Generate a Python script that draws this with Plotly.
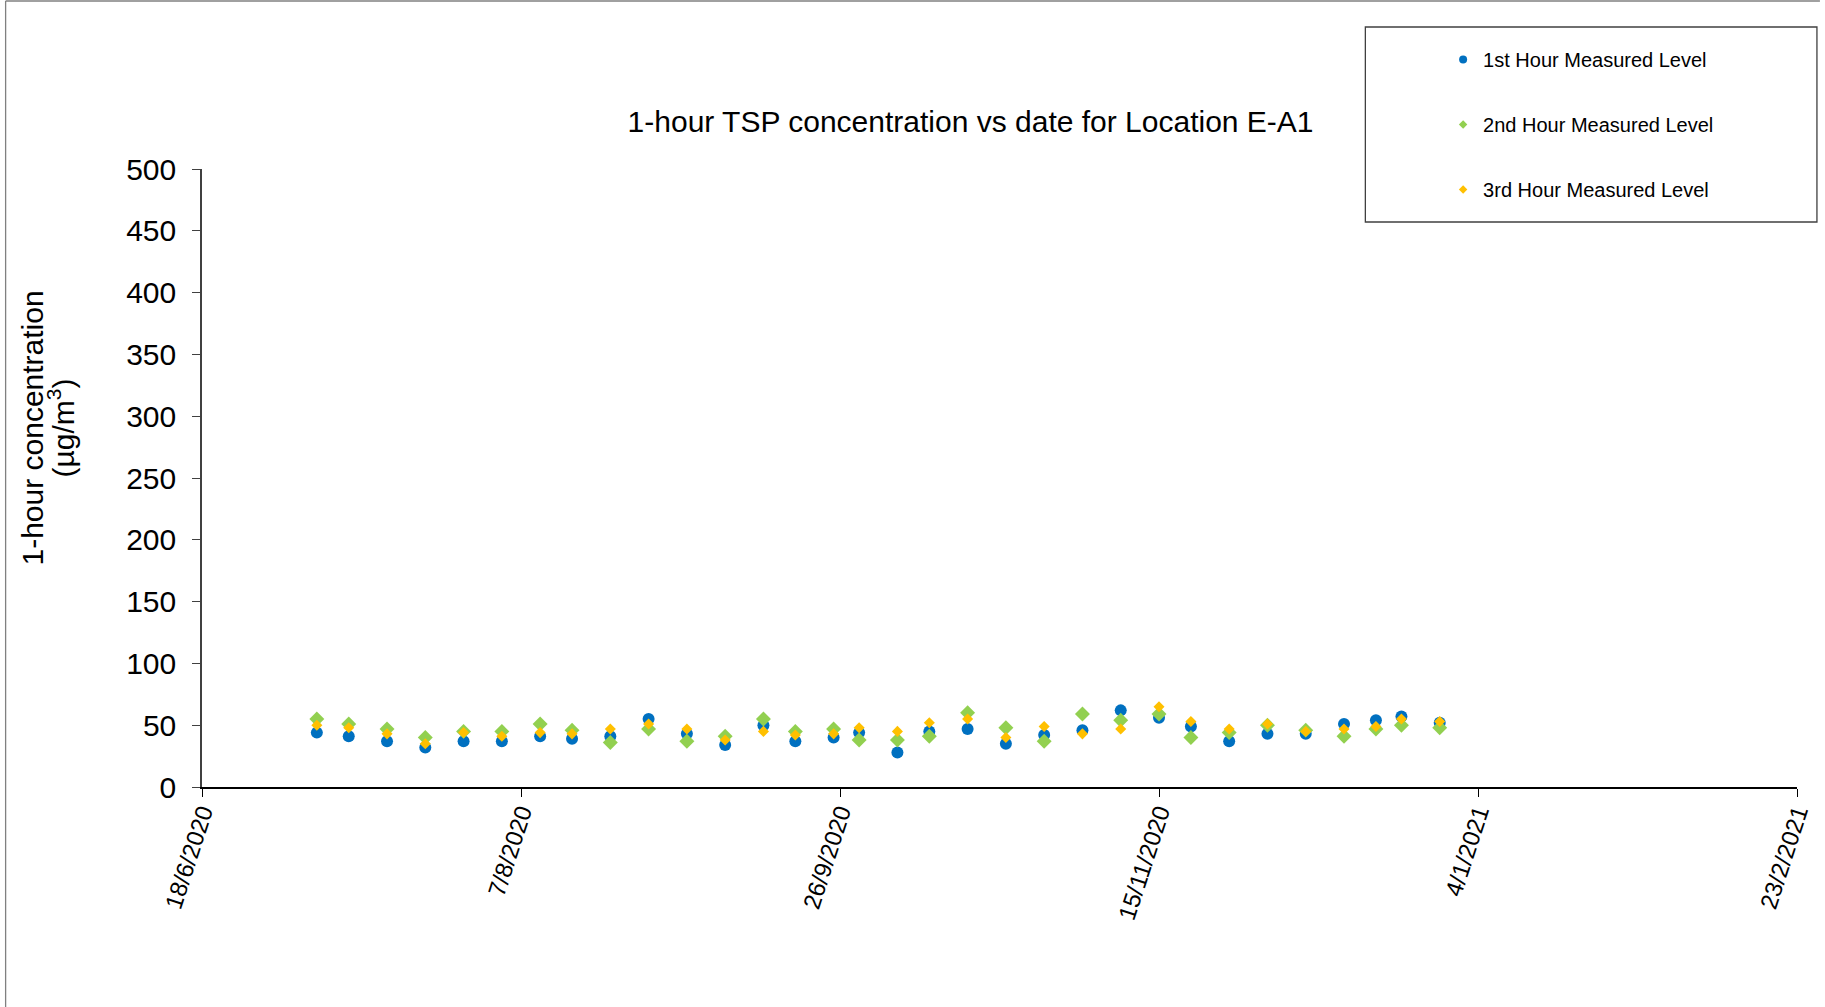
import plotly.graph_objects as go

# ---- data ----
dates = [
    "2020-07-06", "2020-07-11", "2020-07-17", "2020-07-23", "2020-07-29", "2020-08-04",
    "2020-08-10", "2020-08-15", "2020-08-21", "2020-08-27", "2020-09-02", "2020-09-08",
    "2020-09-14", "2020-09-19", "2020-09-25", "2020-09-29", "2020-10-05", "2020-10-10",
    "2020-10-16", "2020-10-22", "2020-10-28", "2020-11-03", "2020-11-09", "2020-11-15",
    "2020-11-20", "2020-11-26", "2020-12-02", "2020-12-08", "2020-12-14", "2020-12-19",
    "2020-12-23", "2020-12-29",
]
first_hour = [44, 41, 37, 32, 37, 37, 41, 39, 41, 55, 43, 34, 50, 37, 40, 44,
              28, 45, 47, 35, 42, 46, 62, 56, 49, 37, 43, 43, 51, 54, 57, 52]
second_hour = [55, 51, 47, 40, 45, 45, 51, 46, 36, 47, 37, 41, 55, 45, 47, 38,
               38, 41, 60, 48, 37, 59, 54, 59, 40, 44, 50, 46, 41, 47, 50, 48]
third_hour = [50, 48, 43, 35, 44, 41, 44, 43, 47, 51, 47, 38, 45, 42, 43, 48,
              45, 52, 55, 40, 49, 43, 47, 65, 53, 47, 51, 45, 47, 49, 55, 53]

tick_dates = ["2020-06-18", "2020-08-07", "2020-09-26", "2020-11-15", "2021-01-04", "2021-02-23"]
tick_labels = ["18/6/2020", "7/8/2020", "26/9/2020", "15/11/2020", "4/1/2021", "23/2/2021"]
y_ticks = [0, 50, 100, 150, 200, 250, 300, 350, 400, 450, 500]

series_names = ["1st Hour Measured Level", "2nd Hour Measured Level", "3rd Hour Measured Level"]
series_colors = ["#0070C0", "#92D050", "#FFC000"]

FONT = "Liberation Sans, Arial, sans-serif"
W, H = 1825, 1007
ML, MR, MT, MB = 202, 23, 169, 220
PW, PH = W - ML - MR, H - MT - MB


def px_x(px):
    return (px - ML) / PW


def px_y(py):
    return (H - MB - py) / PH


fig = go.Figure()
specs = [
    (first_hour, "circle", 12, 8),
    (second_hour, "diamond", 11.5, 6.5),
    (third_hour, "diamond", 8.5, 6.5),
]
for i, (vals, sym, size, lsize) in enumerate(specs):
    fig.add_trace(go.Scatter(
        x=dates, y=vals, mode="markers", name=series_names[i],
        legendgroup=f"g{i}", showlegend=False,
        marker=dict(symbol=sym, size=size, color=series_colors[i], line=dict(width=0)),
    ))
    # legend entry with the small legend symbol
    fig.add_trace(go.Scatter(
        x=[None], y=[None], mode="markers", name=series_names[i],
        legendgroup=f"g{i}", showlegend=True, hoverinfo="skip",
        marker=dict(symbol=sym, size=lsize, color=series_colors[i], line=dict(width=0)),
    ))

fig.update_layout(
    width=W, height=H,
    margin=dict(l=ML, r=MR, t=MT, b=MB, pad=0),
    paper_bgcolor="white", plot_bgcolor="white",
    font=dict(family=FONT, color="black"),
    title=dict(
        text="1-hour TSP concentration vs date for Location E-A1",
        font=dict(size=30, family=FONT, color="black"),
        x=px_x(973), xref="paper", xanchor="center",
        y=1 - 121 / H, yref="container", yanchor="middle",
    ),
    showlegend=True,
    legend=dict(
        x=px_x(1447), y=px_y(40), xanchor="left", yanchor="top",
        font=dict(size=20, family=FONT, color="black"),
        bgcolor="rgba(0,0,0,0)", borderwidth=0,
        tracegroupgap=36, itemsizing="trace", itemwidth=30,
    ),
    xaxis=dict(
        type="date",
        range=[tick_dates[0], tick_dates[-1]],
        tickmode="array", tickvals=tick_dates, ticktext=tick_labels,
        tickangle=-72,
        tickfont=dict(size=24, family=FONT, color="black"),
        showgrid=False, zeroline=False,
        showline=True, linecolor="black", linewidth=1.5,
        ticks="outside", ticklen=8, tickcolor="black", tickwidth=1,
        ticklabelstandoff=-8,
    ),
    yaxis=dict(
        range=[0, 500],
        tickmode="array", tickvals=y_ticks,
        tickfont=dict(size=30, family=FONT, color="black"),
        showgrid=False, zeroline=False,
        showline=True, linecolor="#404040", linewidth=1.5,
        ticks="outside", ticklen=8, tickcolor="#404040", tickwidth=1,
        ticklabelstandoff=10,
    ),
)

# y-axis title (two lines, placed as in the reference)
fig.add_annotation(text="1-hour concentration", textangle=-90,
                   xref="paper", yref="paper", x=px_x(31), y=px_y(428),
                   xanchor="center", yanchor="middle", showarrow=False,
                   font=dict(size=30, family=FONT, color="black"))
fig.add_annotation(text="(µg/m<sup>3</sup>)", textangle=-90,
                   xref="paper", yref="paper", x=px_x(61), y=px_y(428),
                   xanchor="center", yanchor="middle", showarrow=False,
                   font=dict(size=30, family=FONT, color="black"))

# legend box
fig.add_shape(type="rect", xref="paper", yref="paper",
              x0=px_x(1369), x1=px_x(1822), y0=px_y(222), y1=px_y(27),
              line=dict(color="#404040", width=1.3), fillcolor="rgba(0,0,0,0)")
# chart outer border (left and top visible)
fig.add_shape(type="line", xref="paper", yref="paper",
              x0=px_x(5), x1=px_x(5), y0=px_y(1), y1=px_y(1007),
              line=dict(color="#808080", width=1.3))
fig.add_shape(type="line", xref="paper", yref="paper",
              x0=px_x(5), x1=px_x(1825), y0=px_y(1), y1=px_y(1),
              line=dict(color="#808080", width=1.3))

fig.write_html("out.html", config={"displayModeBar": False},
               post_script="document.body.style.margin='0';")
